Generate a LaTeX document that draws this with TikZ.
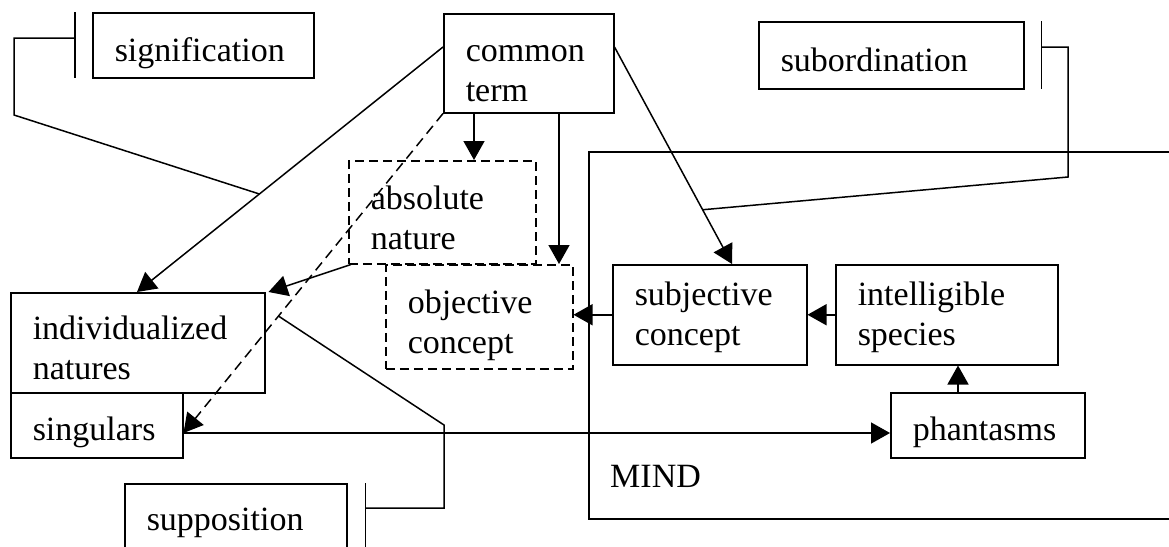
\documentclass[tikz,border=0pt]{standalone}
\usepackage{fontspec}
\setmainfont{Liberation Serif}
\usetikzlibrary{arrows.meta,calc}
\tikzset{
  box/.style={draw, line width=1.5pt, anchor=north west, inner xsep=22pt, inner ysep=0pt,
    align=left, font=\fontsize{34}{40}\selectfont},
  up/.style={text height=#1, text depth=0pt},
  dn/.style={text height=0pt, text depth=#1},
  dbox/.style={box, dash pattern=on 9pt off 5pt},
  conn/.style={line width=1.5pt},
  arr/.style={conn, -{Triangle[length=19pt,width=21pt]}},
  bar/.style={line width=1.5pt},
}
\begin{document}
\begin{tikzpicture}[x=1pt,y=-1pt]
\clip (0,0) rectangle (1169,546);
\fill[white] (0,0) rectangle (1169,546);
% boxes
\node[box, up=32pt, text width=177pt, minimum height=65pt] (sig) at (92,12) {signification};
\node[box, dn=4pt, text width=126pt, minimum height=99pt] (common) at (443,13) {common\\term};
\node[box, up=33pt, text width=221pt, minimum height=67pt] (sub) at (758,21) {subordination};
\node[dbox, dn=6pt, text width=143pt, minimum height=103pt] (absn) at (348,160) {absolute\\nature};
\node[dbox, dn=7pt, text width=143pt, minimum height=104pt] (obj) at (385,264) {objective\\concept};
\node[box, dn=7pt, text width=210pt, minimum height=100pt] (ind) at (10,292) {individualized\\natures};
\node[box, up=31pt, text width=128pt, minimum height=65pt] (sing) at (10,392) {singulars};
\node[box, up=24pt, text width=178pt, minimum height=70pt] (supp) at (124,483) {supposition};
\node[box, dn=19pt, text width=150pt, minimum height=100pt] (subj) at (612,264) {subjective\\concept};
\node[box, dn=19pt, text width=178pt, minimum height=100pt] (intel) at (835,264) {intelligible\\species};
\node[box, up=31pt, text width=150pt, minimum height=65pt] (phan) at (890,392) {phantasms};
% MIND region
\draw[conn] (1180,152) -| (589,519) -- (1180,519);
\node[anchor=base west, inner sep=0pt, font=\fontsize{34}{40}\selectfont] (mind) at (610,487) {MIND};
% arrows from common term
\draw[arr] ($(common.north west)+(0,34)$) -- coordinate[pos=0.6] (sigp) ($(ind.north west)+(127,0)$);
\draw[arr] ($(common.south west)+(31,0)$) coordinate (c2) -- (c2 |- absn.north);
\draw[arr] ($(common.south west)+(116,0)$) coordinate (c3) -- (c3 |- obj.north);
\draw[arr] ($(common.north east)+(0,34)$) -- coordinate[pos=0.75] (subp) ($(subj.north west)+(120,0)$);
\coordinate (singp) at ($(sing.north east)+(0,41)$);
\draw[arr, dash pattern=on 10pt off 6pt] (common.south west) -- coordinate[pos=0.634] (suppp) (singp);
\draw[arr] ($(absn.south west)+(3,0)$) -- ($(ind.north east)+(3,0)$);
% mind arrows
\draw[arr] (subj.west) -- (subj.west -| obj.east);
\draw[arr] (intel.west) -- (intel.west -| subj.east);
\draw[arr] ($(phan.north west)+(68,0)$) coordinate (p9) -- (p9 |- intel.south);
\draw[arr] (singp) -- (singp -| phan.west);
% brackets
\draw[bar] ($(sig.north west)+(-17,0)$) -- ($(sig.south west)+(-17,-1)$);
\draw[conn] ($(sig.north west)+(-17,26)$) -- (14,38) -- (14,115) -- (sigp);
\draw[bar] ($(sub.north east)+(17,0)$) -- ($(sub.south east)+(17,-1)$);
\draw[conn] ($(sub.north east)+(17,26)$) -- (1068,47) -- (1068,177) -- (subp);
\draw[bar] ($(supp.north east)+(18,0)$) -- ($(supp.south east)+(18,0)$);
\draw[conn] ($(supp.north east)+(18,25)$) -- (444,508) -- (444,425) -- (suppp);
\end{tikzpicture}
\end{document}
